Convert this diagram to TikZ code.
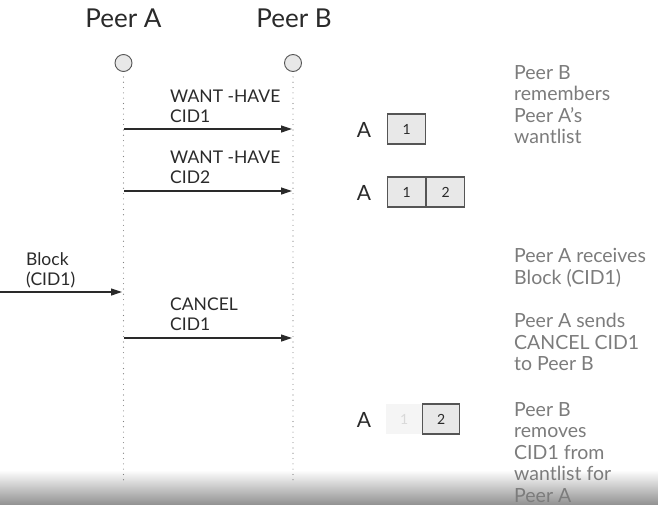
\documentclass[tikz,border=0pt]{standalone}
\usepackage{fontspec}
\setmainfont{Lato}
\usetikzlibrary{arrows.meta}
\definecolor{ink}{HTML}{2A2A2A}
\definecolor{note}{HTML}{7C7C7C}
\definecolor{cellfill}{HTML}{E8E8E8}
\definecolor{lineg}{HTML}{555555}
\tikzset{
  header/.style={font=\fontsize{26}{30}\selectfont, text=ink, inner sep=0pt},
  lifecirc/.style={circle, draw=lineg, fill=cellfill, line width=0.9pt, minimum size=17pt, inner sep=0pt},
  lifeline/.style={draw=gray, line width=1.1pt, line cap=round, dash pattern=on 0pt off 5.3pt},
  msg/.style={draw=ink, line width=1.2pt, -{Triangle[length=11pt,width=7pt]}},
  msglabel/.style={font=\fontsize{17.5}{20}\selectfont, text=ink, align=left, anchor=north west, inner sep=0pt},
  notetext/.style={font=\fontsize{19.5}{21.6}\selectfont, text=note, align=left, anchor=north west, inner sep=0pt},
  cell/.style={draw=lineg, fill=cellfill, line width=1.2pt, minimum width=38pt, minimum height=30pt, inner sep=0pt, font=\fontsize{14}{16}\selectfont, text=ink},
  fadedcell/.style={fill=black!4, minimum width=36pt, minimum height=30pt, inner sep=0pt, font=\fontsize{14}{16}\selectfont, text=black!15},
  owner/.style={font=\fontsize{21}{23}\selectfont, text=ink, inner sep=0pt, anchor=base},
}
\begin{document}
\begin{tikzpicture}[x=1pt,y=-1pt]
\useasboundingbox (0,0) rectangle (658,504);
\fill[white] (0,0) rectangle (658,504);
% bottom overlay bar
\shade[top color=white, bottom color=black!42] (0,470) rectangle (658,504);

% headers
\node[header, anchor=base] (hA) at (123.5,27) {Peer A};
\node[header, anchor=base] (hB) at (294,27) {Peer B};

% lifelines
\node[lifecirc] (cA) at (123.5,63) {};
\node[lifecirc] (cB) at (293,63) {};
\coordinate (endA) at (123.5,480);
\coordinate (endB) at (293,480);
\draw[lifeline] (cA.south) ++(0,5) -- (endA);
\draw[lifeline] (cB.south) ++(0,5) -- (endB);

% messages
\coordinate (m1s) at (124,129); \coordinate (m1e) at (292,129);
\draw[msg] (m1s) -- (m1e);
\node[msglabel] (l1) at (170,90) {WANT -HAVE\\CID1};

\coordinate (m2s) at (124,191); \coordinate (m2e) at (292,191);
\draw[msg] (m2s) -- (m2e);
\node[msglabel] (l2) at (170,151) {WANT -HAVE\\CID2};

\coordinate (m3s) at (0,292); \coordinate (m3e) at (122,292);
\draw[msg] (m3s) -- (m3e);
\node[msglabel] (l3) at (26,252) {Block\\(CID1)};

\coordinate (m4s) at (124,338); \coordinate (m4e) at (292,338);
\draw[msg] (m4s) -- (m4e);
\node[msglabel] (l4) at (170,298) {CANCEL\\CID1};

% wantlist states
\node[owner] (o1) at (364,137) {A};
\node[cell, anchor=west] (w1a) at (387,129) {1};

\node[owner] (o2) at (364,200) {A};
\node[cell, anchor=west] (w2a) at (387,192) {1};
\node[cell, anchor=west] (w2b) at (w2a.east) {2};

\node[owner] (o3) at (364,427) {A};
\node[fadedcell, anchor=west] (w3a) at (386,419) {1};
\node[cell, anchor=west, minimum width=37pt] (w3b) at (422,419) {2};

% notes
\node[notetext] (n1) at (514,65) {Peer B\\remembers\\Peer A's\\wantlist};
\node[notetext] (n2) at (514,248) {Peer A receives\\Block (CID1)};
\node[notetext] (n3) at (514,313) {Peer A sends\\CANCEL CID1\\to Peer B};
\node[notetext] (n4) at (514,402) {Peer B\\removes\\CID1 from\\wantlist for\\Peer A};
\end{tikzpicture}
\end{document}
